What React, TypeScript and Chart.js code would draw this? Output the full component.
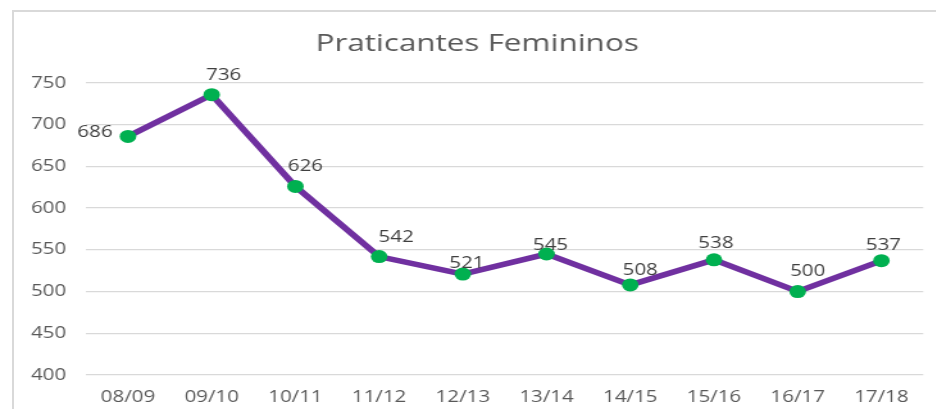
import React, { useEffect, useRef } from "react";
import { Chart, registerables } from "chart.js";

Chart.register(...registerables);

const categories = ["08/09", "09/10", "10/11", "11/12", "12/13", "13/14", "14/15", "15/16", "16/17", "17/18"];
const values = [686, 736, 626, 542, 521, 545, 508, 538, 500, 537];
const yTicks = [400, 450, 500, 550, 600, 650, 700, 750];
const chartTitle = "Praticantes Femininos";
// label offsets relative to each point (page px)
const labelOffsets: [number, number][] = [
  [-33, -4], [12, -19], [10, -20], [17, -19], [4, -11],
  [4, -9], [10, -14], [2, -16], [10, -20], [2, -15],
];

const PAGE_W = 944;
const PAGE_H = 417;
const K = 1.28; // horizontal stretch of the reference
const INNER_W = PAGE_W / K;
const FONT = "'Open Sans', 'Noto Sans', sans-serif";
const PAD_R = INNER_W - 922 / K;
const PAD_L = PAD_R + 7;

const labelPlugin = {
  id: "manualLabels",
  afterDatasetsDraw(chart: any) {
    const meta = chart.getDatasetMeta(0);
    const ctx = chart.ctx;
    ctx.save();
    ctx.font = `16px ${FONT}`;
    ctx.fillStyle = "#404040";
    ctx.textAlign = "center";
    ctx.textBaseline = "middle";
    meta.data.forEach((pt: any, i: number) => {
      const [dx, dy] = labelOffsets[i];
      ctx.fillText(String(values[i]), pt.x + dx / K, pt.y + dy);
    });
    ctx.restore();
  },
};

export default function App() {
  const ref = useRef<HTMLCanvasElement | null>(null);
  useEffect(() => {
    if (!ref.current) return;
    const chart = new Chart(ref.current, {
      type: "line",
      data: {
        labels: categories,
        datasets: [
          {
            data: values,
            borderColor: "#7030A0",
            borderWidth: 5.5,
            tension: 0,
            pointBackgroundColor: "#00B050",
            pointBorderColor: "#00B050",
            pointBorderWidth: 0,
            pointRadius: 6.5,
            pointHoverRadius: 6.5,
            clip: false as any,
          },
        ],
      },
      options: {
        animation: false,
        responsive: true,
        maintainAspectRatio: false,
        events: [],
        layout: { padding: { left: PAD_L, right: PAD_R, top: 0, bottom: 0 } },
        plugins: {
          legend: { display: false },
          tooltip: { enabled: false },
          title: {
            display: true,
            text: chartTitle,
            color: "#595959",
            font: { family: FONT, size: 24.5, weight: "normal", lineHeight: 1.2 },
            padding: { top: 29.3, bottom: 83 - 29.3 - 29.4 },
          },
        },
        scales: {
          x: {
            offset: true,
            grid: { display: false, drawTicks: false },
            border: { display: false },
            ticks: { color: "#595959", font: { family: FONT, size: 16 }, padding: 13, maxRotation: 0 },
            afterFit: (s: any) => { s.height = PAGE_H - 375; },
          },
          y: {
            min: 400,
            max: 750,
            afterBuildTicks: (s: any) => { s.ticks = yTicks.map((v) => ({ value: v })); },
            grid: { color: "#d9d9d9", lineWidth: 1.3, drawTicks: false },
            border: { display: false },
            ticks: { color: "#595959", font: { family: FONT, size: 16 }, padding: 15.6 },
            afterFit: (s: any) => { s.width = 86 / K - PAD_L; },
          },
        },
      },
      plugins: [labelPlugin],
    });
    return () => chart.destroy();
  }, []);

  return (
    <div style={{ margin: -8, position: "relative", width: PAGE_W, height: PAGE_H, overflow: "hidden", background: "#fff" }}>
      <div
        style={{
          position: "absolute",
          left: 12,
          top: 10,
          width: 1000,
          height: 500,
          borderLeft: "2px solid #d9d9d9",
          borderTop: "2px solid #d9d9d9",
        }}
      />
      <div
        style={{
          position: "absolute",
          left: 0,
          top: 0,
          width: INNER_W,
          height: PAGE_H,
          transform: `scaleX(${K})`,
          transformOrigin: "0 0",
        }}
      >
        <canvas ref={ref} />
      </div>
    </div>
  );
}
